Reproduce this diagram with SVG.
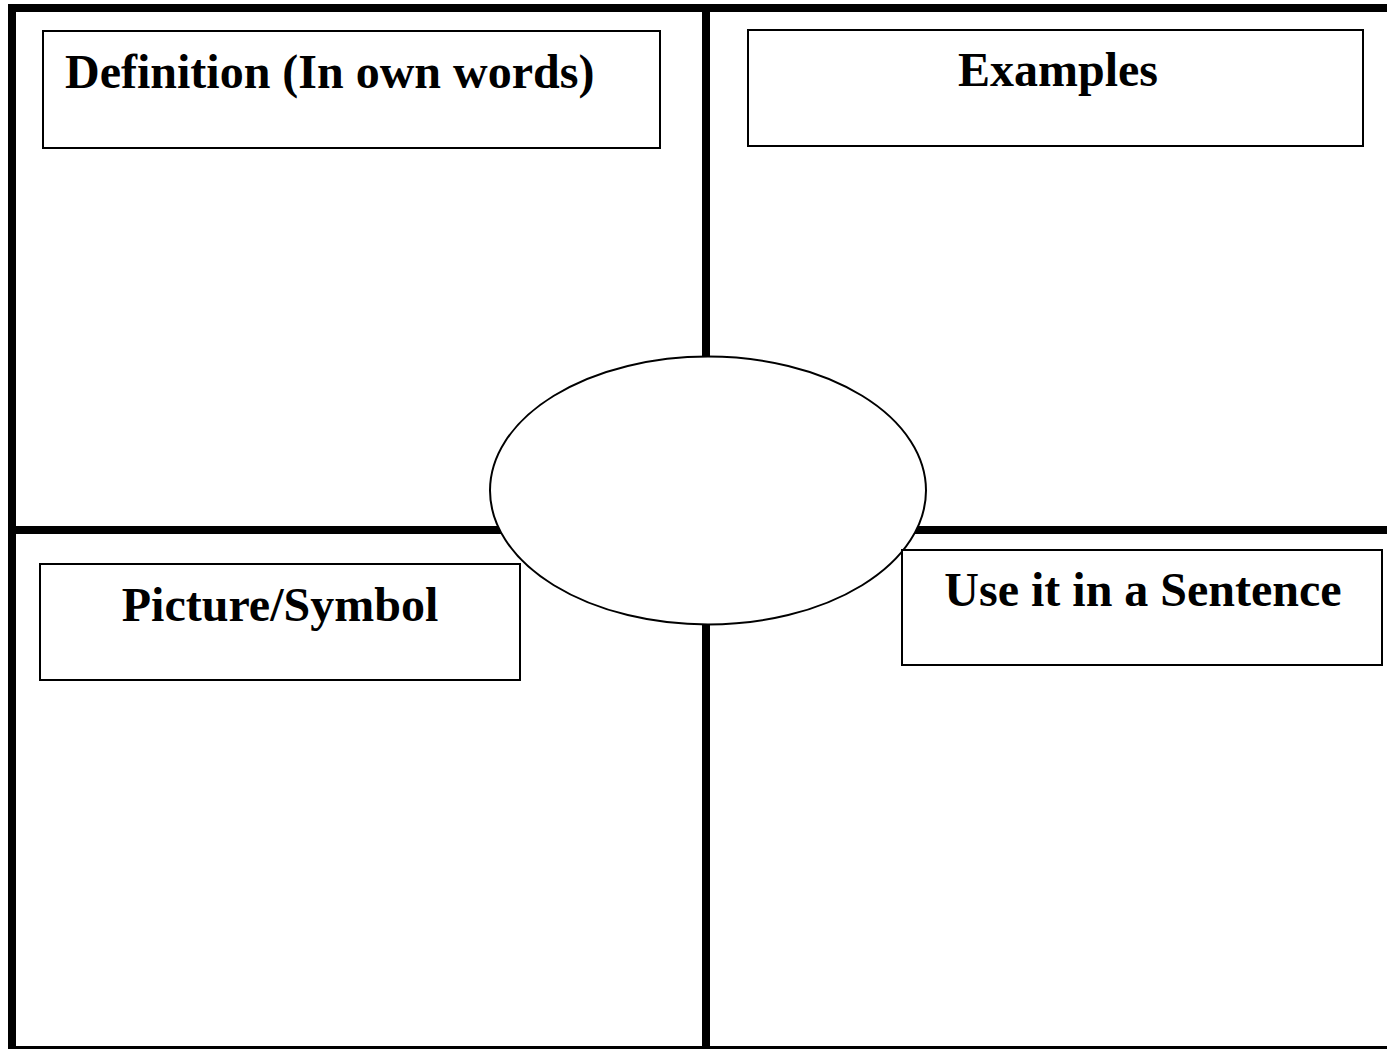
<svg xmlns="http://www.w3.org/2000/svg" width="1387" height="1049" viewBox="0 0 1387 1049">
<style>
.grid{stroke:#000;stroke-width:8;fill:none}
.box{fill:#fff;stroke:#000;stroke-width:2}
.lbl{font-family:"Liberation Serif","Times New Roman",serif;font-weight:bold;font-size:48px;fill:#000}
</style>
<rect width="1387" height="1049" fill="#fff"/>
<g id="connectors">
<path class="grid" d="M12 4V1049 M8 8H1387 M8 1050H1387 M706 8V1049 M12 530H1387"/>
</g>
<g id="center">
<ellipse cx="708" cy="490.5" rx="218" ry="134" fill="#fff" stroke="#000" stroke-width="2"/>
</g>
<g id="definition">
<rect class="box" x="43" y="31" width="617" height="117"/>
<text class="lbl" x="65" y="88">Definition (In own words)</text>
</g>
<g id="examples">
<rect class="box" x="748" y="30" width="615" height="116"/>
<text class="lbl" x="1058" y="86" text-anchor="middle">Examples</text>
</g>
<g id="picture">
<rect class="box" x="40" y="564" width="480" height="116"/>
<text class="lbl" x="280" y="621" text-anchor="middle">Picture/Symbol</text>
</g>
<g id="sentence">
<rect class="box" x="902" y="550" width="480" height="115"/>
<text class="lbl" x="1143" y="606" text-anchor="middle">Use it in a Sentence</text>
</g>
</svg>
